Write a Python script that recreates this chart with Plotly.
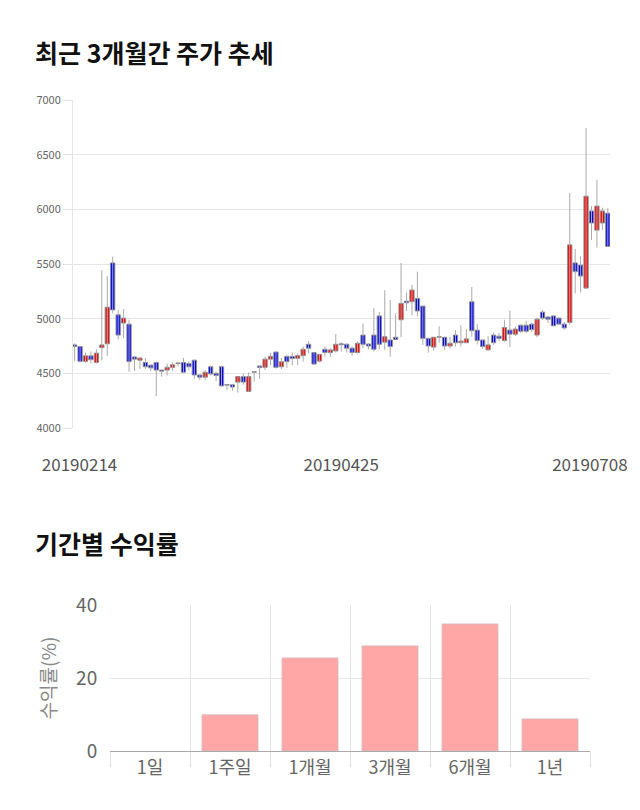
import pandas as pd
import plotly.graph_objects as go

# ---- data: daily candles (2019-02-14 .. 2019-07-08, KRX trading days) ----
holidays = ["2019-03-01", "2019-05-01", "2019-05-06", "2019-06-06"]
dates = [d.strftime("%Y%m%d") for d in pd.bdate_range("2019-02-14", "2019-07-08")
         if d.strftime("%Y-%m-%d") not in holidays]

opens = [4760, 4745, 4610, 4660, 4600, 4735, 4770, 5510, 5035, 4960,
         4950, 4650, 4620, 4600, 4575, 4600, 4530, 4530, 4555, 4590,
         4600, 4590, 4620, 4485, 4465, 4560, 4500, 4560, 4398, 4395,
         4420, 4470, 4335, 4510, 4567, 4555, 4630, 4695, 4560, 4655,
         4655, 4638, 4662, 4766, 4690, 4612, 4720, 4690, 4705, 4770,
         4766, 4730, 4690, 4850, 4768, 4850, 5025, 4785, 4805, 4830,
         4990, 5160, 5155, 5185, 5115, 4820, 4740, 4830, 4830, 4750,
         4850, 4780, 4780, 5155, 4895, 4805, 4715, 4850, 4840, 4800,
         4896, 4858, 4940, 4940, 4950, 4850, 5060, 5015, 5025, 5005,
         4950, 4965, 5510, 5490, 5280, 5985, 5810, 5875, 5965]
highs = [4775, 4748, 4690, 4700, 4720, 5445, 5390, 5567, 5080, 5090,
         4990, 4655, 4645, 4640, 4580, 4605, 4535, 4590, 4600, 4600,
         4640, 4610, 4625, 4490, 4530, 4570, 4515, 4570, 4400, 4400,
         4470, 4500, 4510, 4520, 4570, 4650, 4685, 4700, 4640, 4668,
         4692, 4683, 4745, 4796, 4692, 4675, 4745, 4730, 4860, 4785,
         4775, 4745, 4790, 4955, 4775, 5095, 5060, 5260, 5170, 5050,
         5510, 5240, 5310, 5430, 5115, 4820, 4830, 4930, 4830, 4835,
         4895, 4940, 4905, 5290, 4950, 4805, 4840, 4875, 4870, 4990,
         5075, 4930, 4950, 4980, 4960, 5010, 5080, 5025, 5030, 5010,
         4970, 6150, 5640, 5570, 6745, 6030, 6270, 6015, 6010]
lows = [4610, 4600, 4600, 4590, 4590, 4620, 4660, 5050, 4810, 4820,
        4515, 4520, 4540, 4540, 4520, 4290, 4470, 4480, 4520, 4560,
        4500, 4530, 4450, 4440, 4440, 4480, 4430, 4380, 4350, 4340,
        4325, 4395, 4335, 4425, 4450, 4530, 4575, 4545, 4540, 4550,
        4575, 4575, 4607, 4683, 4575, 4600, 4653, 4650, 4690, 4700,
        4690, 4660, 4680, 4730, 4720, 4700, 4720, 4715, 4653, 4810,
        4830, 5070, 5030, 5020, 4760, 4690, 4710, 4780, 4715, 4725,
        4745, 4745, 4780, 4835, 4765, 4725, 4705, 4760, 4790, 4790,
        4740, 4840, 4870, 4870, 4880, 4830, 4990, 4960, 4930, 4945,
        4900, 4945, 5230, 5240, 5270, 5720, 5650, 5810, 5660]
closes = [4745, 4610, 4660, 4625, 4685, 4760, 5105, 5080, 4850, 5005,
          4607, 4630, 4640, 4560, 4550, 4530, 4520, 4555, 4578, 4595,
          4510, 4560, 4485, 4465, 4510, 4495, 4480, 4385, 4392, 4375,
          4470, 4420, 4470, 4515, 4553, 4630, 4655, 4555, 4605, 4607,
          4635, 4662, 4720, 4730, 4585, 4673, 4690, 4714, 4766, 4762,
          4730, 4690, 4775, 4766, 4750, 4720, 4766, 4835, 4745, 4810,
          5140, 5145, 5262, 5070, 4820, 4750, 4830, 4835, 4750, 4775,
          4780, 4795, 4815, 4890, 4800, 4745, 4760, 4780, 4820, 4920,
          4858, 4905, 4885, 4885, 4900, 4995, 5005, 4995, 4935, 4950,
          4915, 5675, 5430, 5390, 6120, 5875, 6030, 5985, 5660]

price_ticks = [4000, 4500, 5000, 5500, 6000, 6500, 7000]
date_label_idx = [0, 49, 98]

# ---- data: period returns ----
periods = ["1일", "1주일", "1개월", "3개월", "6개월", "1년"]
returns = [0.0, 9.9, 25.5, 28.8, 34.8, 8.8]
return_ticks = [0, 20, 40]

FONT = "Noto Sans CJK KR"
W, H = 640, 810

fig = go.Figure()

idx = list(range(len(dates)))

# wicks (high-low) as thin line segments
wx, wy = [], []
for i, lo, hi in zip(idx, lows, highs):
    wx += [i, i, None]
    wy += [lo, hi, None]
fig.add_trace(go.Scatter(
    x=wx, y=wy, mode="lines", line=dict(color="#aaaaaa", width=1),
    hoverinfo="skip", xaxis="x", yaxis="y", showlegend=False,
))

# bodies (open-close)
body_base = [min(o, c) for o, c in zip(opens, closes)]
body_len = [abs(c - o) for o, c in zip(opens, closes)]
body_col = ["#ff0000" if c >= o else "#0000ff" for o, c in zip(opens, closes)]
fig.add_trace(go.Bar(
    x=idx, y=body_len, base=body_base, width=0.78,
    marker=dict(color=body_col, line=dict(color="#8c8c8c", width=1)),
    customdata=list(zip(dates, opens, highs, lows, closes)),
    hovertemplate="%{customdata[0]}<br>O %{customdata[1]} H %{customdata[2]}"
                  "<br>L %{customdata[3]} C %{customdata[4]}<extra></extra>",
    xaxis="x", yaxis="y", showlegend=False,
))

fig.add_trace(go.Bar(
    x=periods, y=returns,
    marker=dict(color="#ffa6a6",
                line=dict(color="rgba(215,190,190,0.9)",
                          width=[0 if v == 0 else 1 for v in returns])),
    width=0.7, xaxis="x2", yaxis="y2", showlegend=False,
))

# label positions (first/middle/last date, last label kept inside the canvas)
tick_pos = [0.9, 49, 94.7]

fig.update_layout(
    width=W, height=H,
    margin=dict(l=0, r=0, t=0, b=0),
    paper_bgcolor="white", plot_bgcolor="white",
    font=dict(family=FONT, color="#666666"),
    barmode="overlay",
    xaxis=dict(
        domain=[73 / W, 610 / W], anchor="y", automargin=False,
        range=[-0.3, 98.4],
        tickmode="array", tickvals=tick_pos,
        ticktext=[dates[i] for i in date_label_idx],
        ticks="outside", ticklen=22, tickcolor="rgba(0,0,0,0)",
        tickfont=dict(size=17, color="#555555"),
        showgrid=False, zeroline=False, showline=False,
    ),
    yaxis=dict(
        domain=[1 - 428 / H, 1 - 100 / H], anchor="x", automargin=False,
        range=[4000, 7000],
        tickmode="array", tickvals=price_ticks,
        ticks="outside", ticklen=9, tickcolor="#e2e2e2",
        tickfont=dict(size=11, color="#666666"),
        showgrid=True, gridcolor="#e6e6e6", gridwidth=1,
        zeroline=False, showline=True, linecolor="#e6e6e6",
    ),
    xaxis2=dict(
        domain=[110 / W, 590 / W], anchor="y2", automargin=False,
        type="category",
        tickson="boundaries",
        ticks="outside", ticklen=15, tickcolor="#e2e2e2",
        tickfont=dict(size=18, color="#666666"),
        showgrid=True, gridcolor="#e6e6e6",
        showline=True, linecolor="#aaaaaa",
        zeroline=False,
    ),
    yaxis2=dict(
        domain=[1 - 751 / H, 1 - 605 / H], anchor="x2", automargin=False,
        range=[0, 40],
        tickmode="array", tickvals=return_ticks,
        ticks="outside", ticklen=8, tickcolor="rgba(0,0,0,0)",
        tickfont=dict(size=19, color="#666666"),
        showgrid=True, gridcolor="#e6e6e6",
        zeroline=False, showline=False,
        title=dict(text="수익률(%)", font=dict(size=19, color="#888888"), standoff=14),
    ),
    annotations=[
        dict(text="<b>최근 3개월간 주가 추세</b>", xref="paper", yref="paper",
             x=33 / W, y=1 - 52 / H, xanchor="left", yanchor="middle",
             showarrow=False, font=dict(size=25, color="#111111", family=FONT)),
        dict(text="<b>기간별 수익률</b>", xref="paper", yref="paper",
             x=33 / W, y=1 - 543 / H, xanchor="left", yanchor="middle",
             showarrow=False, font=dict(size=25, color="#111111", family=FONT)),
    ],
)

fig.write_html("out.html")
